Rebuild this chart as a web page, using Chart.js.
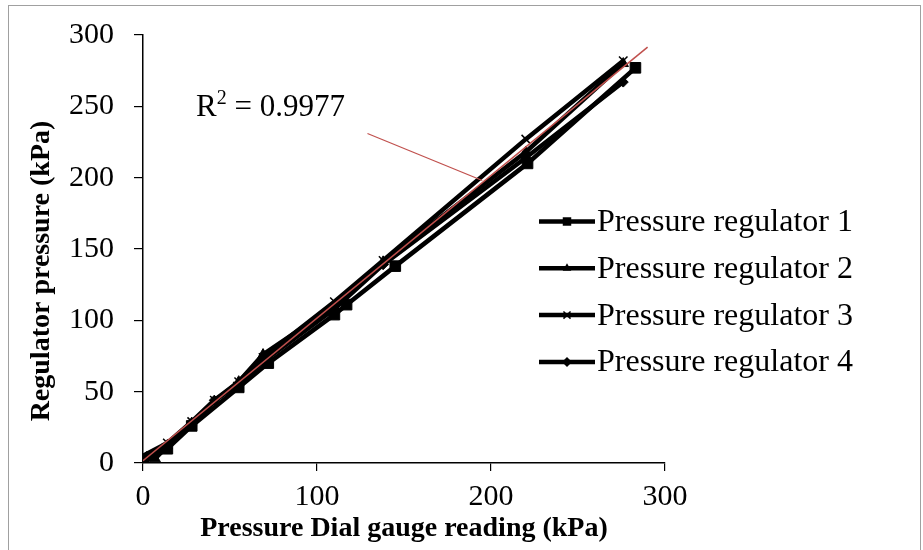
<!DOCTYPE html>
<html>
<head>
<meta charset="utf-8">
<script src="https://cdn.jsdelivr.net/npm/chart.js@4"></script>
<style>
html,body{margin:0;padding:0;background:#fff;}
#wrap{position:relative;width:923px;height:550px;}
</style>
</head>
<body>
<div id="wrap"><canvas id="c" width="923" height="550"></canvas></div>
<script>
// ---- data ----
const seriesLabels = ['Pressure regulator 1','Pressure regulator 2','Pressure regulator 3','Pressure regulator 4'];
const reg1X = [0, 14, 28, 55, 72, 110, 117, 145, 221, 283];
const reg1Y = [0, 10, 26, 53, 70, 104, 111, 138, 210, 277];
const reg2X = [7, 14, 28, 41, 55, 69, 110, 138, 220, 276];
const reg2Y = [3, 12, 28, 43, 57, 76, 110, 141, 218, 280];
const reg3X = [0, 14, 28, 41, 55, 69, 110, 138, 220, 276];
const reg3Y = [5, 14, 29, 44, 57, 74, 113, 142, 227, 282];
const reg4X = [0, 14, 28, 41, 55, 69, 110, 138, 220, 276];
const reg4Y = [2, 13, 28, 44, 55, 71, 108, 139, 214, 267];
const trendX = [0, 290];
const trendY = [1.6, 291.5];
const leaderX = [129, 195];
const leaderY = [231, 198];
const r2Label = 'R';
const r2Value = ' = 0.9977';
const xTickValues = [0, 100, 200, 300];
const yTickValues = [0, 50, 100, 150, 200, 250, 300];
const xTitle = 'Pressure Dial gauge reading (kPa)';
const yTitle = 'Regulator pressure (kPa)';

const pts = (xs, ys) => xs.map((x, i) => ({x: x, y: ys[i]}));
const styles = ['rect', 'triangle', 'crossRot', 'rectRot'];
const radii = [7.5, 6, 6, 5];
const SERIF = '"Liberation Serif", "Times New Roman", serif';

const regData = [pts(reg1X, reg1Y), pts(reg2X, reg2Y), pts(reg3X, reg3Y), pts(reg4X, reg4Y)];

const datasets = [
  {label: 'trend', data: pts(trendX, trendY), showLine: true, borderColor: '#C0504D', borderWidth: 1.5, pointRadius: 0, order: 0},
  {label: 'leader', data: pts(leaderX, leaderY), showLine: true, borderColor: '#C0504D', borderWidth: 1.2, pointRadius: 0, order: 1}
];
regData.forEach((d, i) => {
  datasets.push({
    label: seriesLabels[i], data: d, showLine: true,
    borderColor: '#000', backgroundColor: '#000', borderWidth: 4.5,
    pointStyle: styles[i], pointRadius: radii[i], pointBorderWidth: i === 2 ? 1.5 : 1,
    pointBackgroundColor: '#000', pointBorderColor: '#000', order: 2 + i
  });
});

function drawMarker(ctx, style, x, y, r) {
  ctx.save();
  ctx.fillStyle = '#000'; ctx.strokeStyle = '#000'; ctx.lineWidth = 1.5;
  ctx.beginPath();
  if (style === 'rect') {
    const s = Math.SQRT1_2 * r; ctx.rect(x - s, y - s, 2 * s, 2 * s); ctx.fill();
  } else if (style === 'triangle') {
    ctx.moveTo(x, y - r); ctx.lineTo(x + r * 0.866, y + r * 0.5); ctx.lineTo(x - r * 0.866, y + r * 0.5); ctx.closePath(); ctx.fill();
  } else if (style === 'crossRot') {
    const s = r * Math.SQRT1_2; ctx.moveTo(x - s, y - s); ctx.lineTo(x + s, y + s); ctx.moveTo(x - s, y + s); ctx.lineTo(x + s, y - s); ctx.stroke();
  } else {
    ctx.moveTo(x, y - r); ctx.lineTo(x + r, y); ctx.lineTo(x, y + r); ctx.lineTo(x - r, y); ctx.closePath(); ctx.fill();
  }
  ctx.restore();
}

const decor = {
  id: 'decor',
  beforeDraw(chart) {
    const ctx = chart.ctx;
    ctx.save();
    ctx.fillStyle = '#fff'; ctx.fillRect(0, 0, chart.width, chart.height);
    ctx.strokeStyle = '#a0a0a0'; ctx.lineWidth = 1;
    ctx.strokeRect(8.5, 5.5, 912, 600);
    ctx.restore();
  },
  afterDraw(chart) {
    const ctx = chart.ctx;
    const xs = chart.scales.x, ys = chart.scales.y;
    ctx.save();
    ctx.fillStyle = '#000';
    // axis titles
    ctx.font = 'bold 28px ' + SERIF;
    ctx.textAlign = 'center'; ctx.textBaseline = 'middle';
    ctx.fillText(xTitle, (xs.left + xs.right) / 2, 529);
    ctx.save();
    ctx.translate(42, (ys.top + ys.bottom) / 2 + 22);
    ctx.rotate(-Math.PI / 2);
    ctx.fillText(yTitle, 0, 0);
    ctx.restore();
    // R^2 label
    ctx.textAlign = 'left'; ctx.textBaseline = 'alphabetic';
    ctx.font = '31px ' + SERIF;
    const lx = 196, ly = 116;
    ctx.fillText(r2Label, lx, ly);
    let w = ctx.measureText(r2Label).width;
    ctx.font = '20px ' + SERIF;
    ctx.fillText('2', lx + w, ly - 12);
    w += ctx.measureText('2').width;
    ctx.font = '31px ' + SERIF;
    ctx.fillText(r2Value, lx + w, ly);
    // legend
    ctx.font = '32px ' + SERIF;
    ctx.textBaseline = 'middle';
    for (let i = 0; i < 4; i++) {
      const y = 221.5 + i * 46.8;
      ctx.strokeStyle = '#000'; ctx.lineWidth = 4.5;
      ctx.beginPath(); ctx.moveTo(539, y); ctx.lineTo(595, y); ctx.stroke();
      drawMarker(ctx, styles[i], 567, y, i === 0 ? 6 : 5);
      ctx.fillText(seriesLabels[i], 597, y + 1);
    }
    ctx.restore();
  }
};

new Chart(document.getElementById('c'), {
  type: 'scatter',
  data: {datasets: datasets},
  options: {
    responsive: false,
    animation: false,
    layout: {padding: {top: 35, right: 258, left: 0, bottom: 0}},
    plugins: {legend: {display: false}, tooltip: {enabled: false}},
    scales: {
      x: {
        type: 'linear', min: 0, max: 300,
        afterBuildTicks: s => { s.ticks = xTickValues.map(v => ({value: v})); },
        afterFit: s => { s.height = 87; s.paddingLeft = 10; s.paddingRight = 10; },
        ticks: {color: '#000', font: {family: SERIF, size: 30}, padding: 8, maxRotation: 0, autoSkip: false},
        grid: {drawOnChartArea: false, drawTicks: true, tickLength: 8, color: '#000', lineWidth: 1.2},
        border: {display: true, color: '#000', width: 1.5}
      },
      y: {
        type: 'linear', min: 0, max: 300,
        afterBuildTicks: s => { s.ticks = yTickValues.map(v => ({value: v})); },
        afterFit: s => { s.width = 143; s.paddingTop = 10; s.paddingBottom = 10; },
        ticks: {color: '#000', font: {family: SERIF, size: 30}, padding: 20, autoSkip: false},
        grid: {drawOnChartArea: false, drawTicks: true, tickLength: 9, color: '#000', lineWidth: 1.2},
        border: {display: true, color: '#000', width: 1.5}
      }
    }
  },
  plugins: [decor]
});
</script>
</body>
</html>
